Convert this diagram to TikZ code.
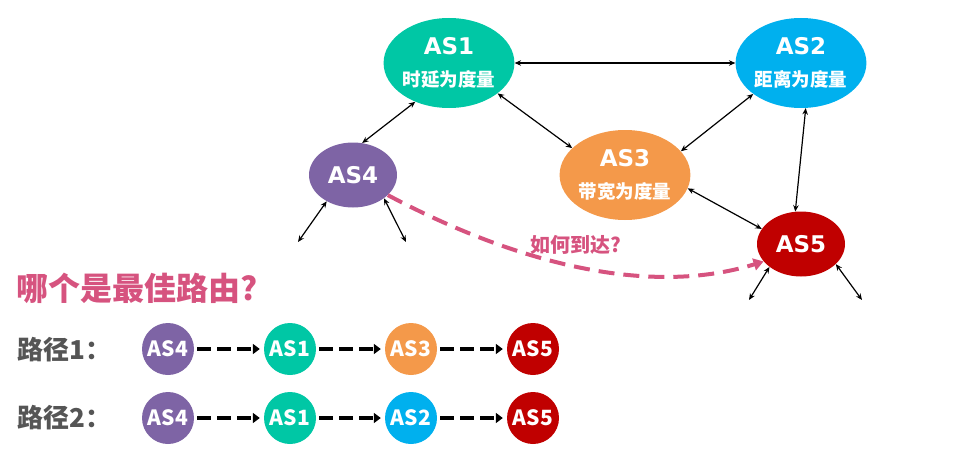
\documentclass[tikz,border=0pt]{standalone}
\usepackage{fontspec}
\setmainfont{Noto Sans CJK SC}
\newfontfamily\asLatin{DejaVu Sans}
\usetikzlibrary{shapes.geometric,arrows.meta}
\definecolor{asTeal}{RGB}{0,199,165}
\definecolor{asBlue}{RGB}{0,176,238}
\definecolor{asOrange}{RGB}{244,153,74}
\definecolor{asPurple}{RGB}{126,100,165}
\definecolor{asRed}{RGB}{192,0,0}
\definecolor{asPink}{RGB}{214,83,127}
\definecolor{labelGray}{RGB}{85,85,85}
\tikzset{
  bigAS/.style={ellipse, fill=#1, text=white, inner sep=0pt, minimum width=124pt, minimum height=90pt, align=center, font=\bfseries\fontsize{18.5}{32}\selectfont},
  midAS/.style={ellipse, fill=#1, text=white, inner sep=0pt, minimum width=88pt, minimum height=65pt, font=\asLatin\bfseries\fontsize{23}{23}\selectfont},
  smallAS/.style={circle, fill=#1, text=white, inner sep=0pt, minimum size=52pt, font=\bfseries\fontsize{21}{21}\selectfont},
  linkArrow/.style={{Stealth[length=6.5pt,width=5.5pt]}-{Stealth[length=6.5pt,width=5.5pt]}, line width=1.2pt},
  pathArrow/.style={-{Triangle[length=7pt,width=10pt]}, line width=3.2pt, dash pattern=on 14pt off 6pt, shorten <=3pt, shorten >=4pt},
  wayArrow/.style={-{Triangle[length=10pt,width=12pt]}, asPink, line width=4pt, dash pattern=on 16pt off 9pt},
  rowLabel/.style={anchor=west, text=labelGray, font=\bfseries\fontsize{26}{26}\selectfont}
}
\newcommand{\asName}[1]{{\asLatin\fontsize{23}{32}\selectfont #1}}

\begin{document}
\begin{tikzpicture}[x=1pt,y=-1pt]
\useasboundingbox (0,0) rectangle (959,452);
% the AS network
\node[bigAS=asTeal] (as1) at (449,63) {\asName{AS1}\\时延为度量};
\node[bigAS=asBlue] (as2) at (801,63) {\asName{AS2}\\距离为度量};
\node[bigAS=asOrange] (as3) at (625,175) {\asName{AS3}\\带宽为度量};
\node[midAS=asPurple] (as4) at (353,175) {AS4};
\node[midAS=asRed] (as5) at (801,244) {AS5};
\coordinate (as4left) at (298,242);
\coordinate (as4right) at (406,242);
\coordinate (as5left) at (749,300);
\coordinate (as5right) at (862,300);
\draw[linkArrow] (as1.east) -- (as2.west);
\draw[linkArrow] (as1.229) -- (as4.74);
\draw[linkArrow] (as1.328) -- (as3.153);
\draw[linkArrow] (as2.213) -- (as3.23);
\draw[linkArrow] (as2.276) -- (as5.100);
\draw[linkArrow] (as3.348) -- (as5.159);
\draw[linkArrow] (as4.225) -- (as4left);
\draw[linkArrow] (as4.323) -- (as4right);
\draw[linkArrow] (as5.216) -- (as5left);
\draw[linkArrow] (as5.330) -- (as5right);
\draw[wayArrow] (as4.330) .. controls (500,255) and (640,300) .. (as5.205);
\node[text=asPink, font=\bfseries\fontsize{20}{20}\selectfont] (howLabel) at (576,245) {如何到达?};
% the question and the two paths
\node[anchor=west, text=asPink, font=\bfseries\fontsize{32}{32}\selectfont] (question) at (13,288) {哪个是最佳路由?};
\node[rowLabel] (path1) at (14,350) {路径1：};
\node[smallAS=asPurple] (p1as4) at (168,349) {AS4};
\node[smallAS=asTeal] (p1as1) at (290,349) {AS1};
\node[smallAS=asOrange] (p1as3) at (411,349) {AS3};
\node[smallAS=asRed] (p1as5) at (533,349) {AS5};
\draw[pathArrow] (p1as4) -- (p1as1);
\draw[pathArrow] (p1as1) -- (p1as3);
\draw[pathArrow] (p1as3) -- (p1as5);
\node[rowLabel] (path2) at (14,418) {路径2：};
\node[smallAS=asPurple] (p2as4) at (168,418) {AS4};
\node[smallAS=asTeal] (p2as1) at (290,418) {AS1};
\node[smallAS=asBlue] (p2as2) at (411,418) {AS2};
\node[smallAS=asRed] (p2as5) at (533,418) {AS5};
\draw[pathArrow] (p2as4) -- (p2as1);
\draw[pathArrow] (p2as1) -- (p2as2);
\draw[pathArrow] (p2as2) -- (p2as5);
\end{tikzpicture}
\end{document}
